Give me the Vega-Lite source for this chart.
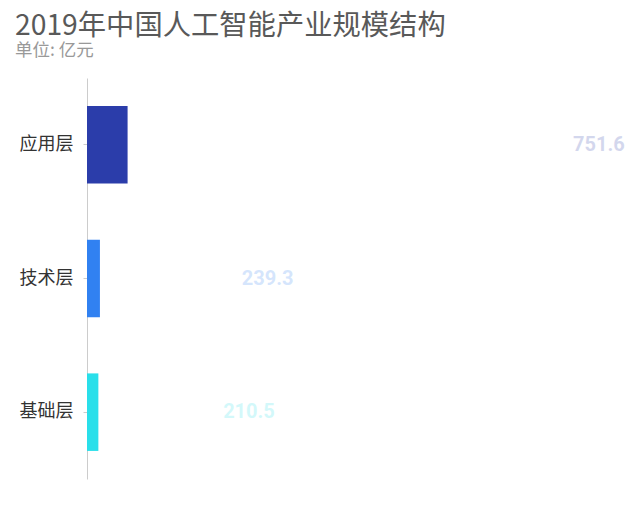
{
  "$schema": "https://vega.github.io/schema/vega-lite/v6.json",
  "autosize": {"type": "none"},
  "padding": {"left": 87, "top": 78, "right": 13, "bottom": 50},
  "width": 540,
  "height": 401,
  "background": "white",
  "title": {
    "text": "2019年中国人工智能产业规模结构",
    "subtitle": "单位: 亿元",
    "anchor": "start",
    "frame": "group",
    "dx": -72,
    "offset": 17,
    "font": "Noto Sans CJK SC",
    "fontSize": 28.3,
    "fontWeight": "normal",
    "color": "#595959",
    "subtitleFont": "Noto Sans CJK SC",
    "subtitleFontSize": 17.5,
    "subtitleColor": "#999999",
    "subtitlePadding": 1
  },
  "config": {"view": {"stroke": null}},
  "data": {
    "values": [
      {"layer": "应用层", "value": 751.6},
      {"layer": "技术层", "value": 239.3},
      {"layer": "基础层", "value": 210.5}
    ]
  },
  "encoding": {
    "y": {
      "field": "layer",
      "type": "nominal",
      "sort": ["应用层", "技术层", "基础层"],
      "scale": {"paddingInner": 0.42, "paddingOuter": 0.21},
      "axis": {
        "title": null,
        "labelFont": "Noto Sans CJK SC",
        "labelFontSize": 18,
        "labelColor": "#333333",
        "labelPadding": 10,
        "tickSize": 4,
        "tickColor": "#cccccc",
        "domainColor": "#cccccc",
        "domainWidth": 1
      }
    },
    "color": {
      "field": "layer",
      "type": "nominal",
      "scale": {"domain": ["应用层", "技术层", "基础层"], "range": ["#2B3DAA", "#3181F1", "#29DFEA"]},
      "legend": null
    }
  },
  "layer": [
    {
      "mark": {"type": "bar"},
      "encoding": {
        "x": {"field": "value", "type": "quantitative", "scale": {"domain": [0, 10000]}, "axis": null}
      }
    },
    {
      "mark": {"type": "text", "align": "left", "baseline": "middle", "font": "Roboto", "fontWeight": "bold", "fontSize": 20, "opacity": 0.2},
      "encoding": {
        "x": {"field": "value", "type": "quantitative", "scale": {"domain": [0, 835]}, "axis": null},
        "text": {"field": "value", "type": "quantitative", "format": ".1f"}
      }
    }
  ],
  "resolve": {"scale": {"x": "independent"}}
}
